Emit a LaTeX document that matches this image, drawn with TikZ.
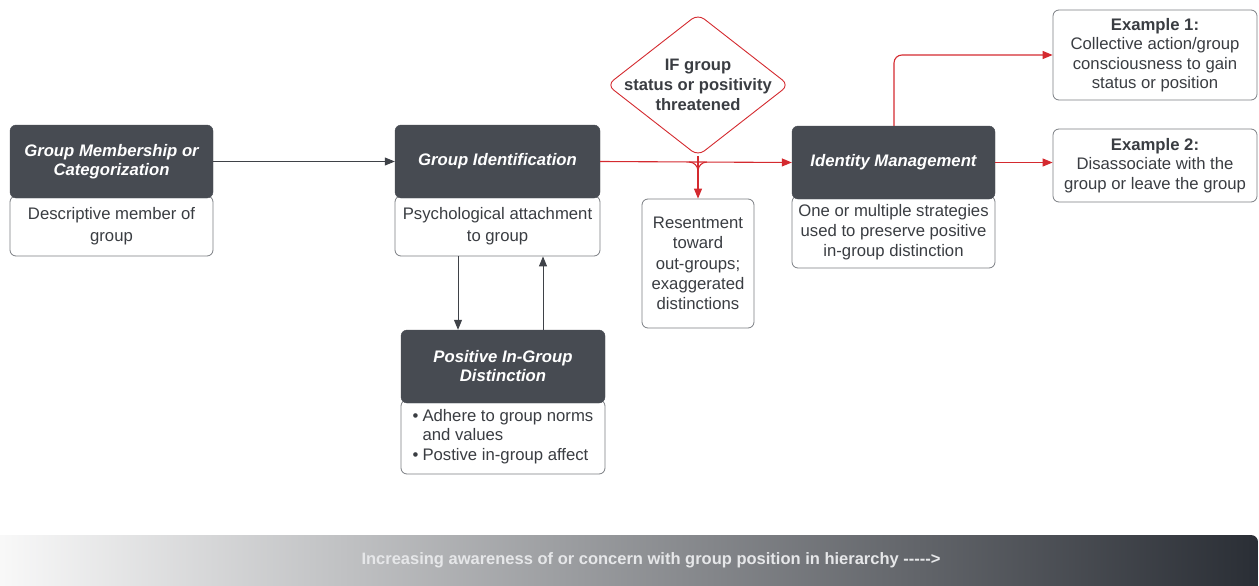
\documentclass[tikz,border=0pt]{standalone}
\usepackage{fontspec}
\setmainfont{Liberation Sans}
\usetikzlibrary{arrows.meta,shapes.geometric}
\definecolor{darkbox}{HTML}{474B52}
\definecolor{txt}{HTML}{3A3D42}
\definecolor{edge}{HTML}{7A7D82}
\definecolor{redl}{HTML}{D42A2F}
\definecolor{arr}{HTML}{3F4248}
\definecolor{bmid}{HTML}{A4A8AD}
\definecolor{bright}{HTML}{2A2E35}
\definecolor{btext}{HTML}{E6E7E9}
\begin{document}
\begin{tikzpicture}[x=1pt,y=-1pt,
  dark/.style={fill=darkbox, draw=darkbox, rounded corners=6pt, text=white,
    font=\fontsize{16.7}{19}\selectfont\bfseries\itshape, align=center, inner sep=0pt},
  lite/.style={fill=white, draw=edge, line width=0.8pt, rounded corners=6pt, text=txt,
    font=\fontsize{16.7}{22}\selectfont, align=center, inner sep=0pt},
  exbox/.style={lite, font=\fontsize{16.7}{19.5}\selectfont},
  blkarrow/.style={draw=arr, line width=1pt, -{Triangle[length=10pt,width=8pt]}},
  redarrow/.style={draw=redl, line width=1.1pt, -{Triangle[length=10pt,width=8pt]}},
  redline/.style={draw=redl, line width=1.1pt},
  decision/.style={diamond, draw=redl, line width=0.9pt, fill=white, rounded corners=8pt,
    inner sep=0pt},
  dectext/.style={text=txt, font=\fontsize{16.6}{20}\selectfont\bfseries, align=center, inner sep=0pt},
]
\useasboundingbox (0,0) rectangle (1259,586);

% banner
\shade[left color=white!96!gray, middle color=bmid, right color=bright, rounded corners=7pt]
  (-10,535) rectangle (1258,600);
\node[text=btext, font=\fontsize{16.5}{18}\selectfont\bfseries] (bannertext) at (651,560)
  {Increasing awareness of or concern with group position in hierarchy -\kern0pt-\kern0pt-\kern0pt-\kern0pt-\kern0pt>};

% white description boxes (drawn first, under the dark boxes)
\node[lite, minimum width=203pt, minimum height=60pt] (g1d) at (111.5,226) {Descriptive member of\\group};
\node[lite, minimum width=205pt, minimum height=60pt] (g2d) at (497.5,226) {Psychological attachment\\to group};
\node[lite, minimum width=204pt, minimum height=74pt, font=\fontsize{16.7}{19.5}\selectfont] (g3d) at (503,437)
  {\begin{tabular}{@{}l@{\hspace{4pt}}l@{}}•&Adhere to group norms\\ &and values\\•&Postive in-group affect\end{tabular}};
\node[lite, minimum width=203pt, minimum height=72pt, font=\fontsize{16.7}{19.8}\selectfont] (imd) at (893.5,232)
  {One or multiple strategies\\used to preserve positive\\in-group distinction};

% dark boxes
\node[dark, minimum width=203pt, minimum height=73pt] (g1) at (111.5,161.5) {Group Membership or\\Categorization};
\node[dark, minimum width=205pt, minimum height=73pt] (g2) at (497.5,161.5) {Group Identification};
\node[dark, minimum width=204pt, minimum height=73pt] (g3) at (503,366.5) {Positive In-Group\\Distinction};
\node[dark, minimum width=203pt, minimum height=73pt] (im) at (893.5,162.5) {Identity Management};

% other boxes
\node[lite, minimum width=112pt, minimum height=129pt, font=\fontsize{16.7}{20.3}\selectfont] (res) at (698,263.5)
  {Resentment\\toward\\out-groups;\\exaggerated\\distinctions};
\node[exbox, minimum width=204pt, minimum height=90pt] (ex1) at (1155,55)
  {\textbf{Example 1:}\\Collective action/group\\consciousness to gain\\status or position};
\node[exbox, minimum width=204pt, minimum height=73pt] (ex2) at (1155,165.5)
  {\textbf{Example 2:}\\Disassociate with the\\group or leave the group};

% decision diamond
\node[decision, minimum width=182pt, minimum height=142pt] (dia) at (698,85) {};
\node[dectext] (diatext) at (dia.center) {IF group\\status or positivity\\threatened};

% connectors
\draw[blkarrow] (g1.east) -- (g2.west);
\draw[blkarrow] (g2d.south -| 458,0) -- (g3.north -| 458,0);
\draw[blkarrow] (g3.north -| 543,0) -- (g2d.south -| 543,0);
\draw[redarrow] (g2.east) -- (im.west);
\draw[redarrow] (dia.south) -- (res.north);
\coordinate (jl) at (689,162);
\coordinate (jr) at (707,162);
\coordinate (jb) at (698,171);
\draw[redline] (jl) to[out=0,in=90] (jb);
\draw[redline] (jr) to[out=180,in=90] (jb);
\draw[redarrow, rounded corners=8pt] (im.north -| 894,0) |- (ex1.west);
\draw[redarrow] (im.east) -- (ex2.west |- im.east);
\end{tikzpicture}
\end{document}
